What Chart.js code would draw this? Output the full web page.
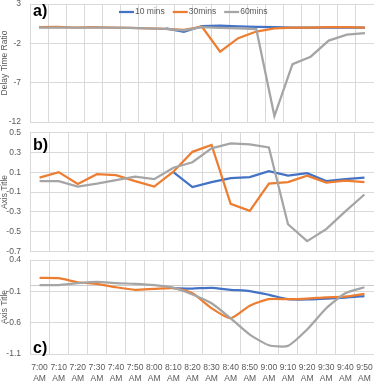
<!DOCTYPE html>
<html lang="en">
<head>
<meta charset="UTF-8">
<title>Delay time ratio - 10 / 30 / 60 mins</title>
<script src="https://cdn.jsdelivr.net/npm/chart.js"></script>
<style>
  html, body { margin: 0; padding: 0; background: #fff; }
  #wrap { position: relative; width: 374px; height: 382px; overflow: hidden; }
  canvas { position: absolute; left: 0; }
</style>
</head>
<body>
<div id="wrap">
  <canvas id="chartA" width="374" height="130" style="top:-2px"></canvas>
  <canvas id="chartB" width="374" height="132" style="top:126px"></canvas>
  <canvas id="chartC" width="374" height="129" style="top:253px"></canvas>
</div>

<script>
// categories (panel a has one extra slot at the end)
const times = ['7:00 AM', '7:10 AM', '7:20 AM', '7:30 AM', '7:40 AM', '7:50 AM',
               '8:00 AM', '8:10 AM', '8:20 AM', '8:30 AM', '8:40 AM', '8:50 AM',
               '9:00 AM', '9:10 AM', '9:20 AM', '9:30 AM', '9:40 AM', '9:50 AM'];
const timesA = times.concat(['10:00 AM']);

const seriesNames = ['10 mins', '30mins', '60mins'];

// a) Delay Time Ratio
const a10 = [null, null, null, null, null, null, null, -0.1, -0.55, 0.2, 0.25, 0.15, 0.1, 0.05, 0, 0, 0, 0, 0];
const a30 = [0.05, 0.1, 0, 0.05, 0, -0.05, -0.1, -0.15, -0.3, 0.1, -3.05, -1.35, -0.5, -0.1, 0, 0, 0.05, 0.05, 0];
const a60 = [0, 0, 0, 0, 0, -0.05, -0.1, -0.15, -0.35, 0.05, -0.05, -0.1, -0.2, -11.25, -4.65, -3.7, -1.65, -0.9, -0.7];
const ticksA = [3, -2, -7, -12];

// b)
const b10 = [null, null, null, null, null, null, null, 0.1, -0.05, 0.0, 0.04, 0.05, 0.11, 0.065, 0.09, 0.01, 0.03, 0.045];
const b30 = [0.045, 0.1, -0.02, 0.08, 0.07, 0.01, -0.045, 0.105, 0.305, 0.375, -0.22, -0.29, -0.015, 0.0, 0.065, -0.005, 0.015, 0.0];
const b60 = [0.01, 0.01, -0.045, -0.015, 0.02, 0.055, 0.03, 0.145, 0.2, 0.34, 0.39, 0.38, 0.35, -0.425, -0.595, -0.475, -0.295, -0.125];
const ticksB = [0.5, 0.3, 0.1, -0.1, -0.3, -0.5, -0.7];

// c)
const c10 = [null, null, null, null, null, null, null, -0.05, -0.055, -0.045, -0.075, -0.095, -0.155, -0.225, -0.23, -0.215, -0.2, -0.175];
const c30 = [0.115, 0.11, 0.045, 0.02, -0.035, -0.075, -0.06, -0.05, -0.13, -0.37, -0.53, -0.33, -0.225, -0.225, -0.215, -0.195, -0.185, -0.14];
const c60 = [0.0, 0.0, 0.03, 0.05, 0.03, 0.02, 0.0, -0.04, -0.15, -0.29, -0.53, -0.79, -0.96, -0.97, -0.71, -0.37, -0.13, -0.035];
const ticksC = [0.4, -0.1, -0.6, -1.1];

const colors = ['#4472C4', '#ED7D31', '#A5A5A5'];
const gridColor = '#d9d9d9';
const textColor = '#595959';
const fontFamily = '"Liberation Sans", Arial, sans-serif';

Chart.defaults.font.family = fontFamily;
Chart.defaults.font.size = 8.5;
Chart.defaults.color = textColor;

// big "a)", "b)", "c)" inside the plot
const panelLabel = {
  id: 'panelLabel',
  afterDatasetsDraw(chart, args, opts) {
    if (!opts.text) return;
    const { ctx, chartArea } = chart;
    ctx.save();
    ctx.font = 'bold 16px ' + fontFamily;
    ctx.fillStyle = '#000';
    ctx.textBaseline = 'alphabetic';
    const y = opts.fromBottom ? chartArea.bottom - opts.dy : chartArea.top + opts.dy;
    ctx.fillText(opts.text, chartArea.left + 3, y);
    ctx.restore();
  }
};

// horizontal axis line at 0 (only panel c shows it)
const zeroLine = {
  id: 'zeroLine',
  beforeDatasetsDraw(chart, args, opts) {
    if (!opts.show) return;
    const { ctx, chartArea } = chart;
    const y = chart.scales.y.getPixelForValue(0);
    ctx.save();
    ctx.strokeStyle = '#cccccc';
    ctx.lineWidth = 1;
    ctx.beginPath();
    ctx.moveTo(chartArea.left, Math.round(y) + 0.5);
    ctx.lineTo(chartArea.right, Math.round(y) + 0.5);
    ctx.stroke();
    ctx.restore();
  }
};

// Excel-style legend in one row inside the plot area
const rowLegend = {
  id: 'rowLegend',
  afterDatasetsDraw(chart, args, opts) {
    if (!opts.show) return;
    const { ctx, chartArea } = chart;
    ctx.save();
    ctx.font = '8.5px ' + fontFamily;
    ctx.textBaseline = 'middle';
    let x = chartArea.left + opts.left;
    const y = chartArea.top + opts.top;
    chart.data.datasets.forEach(ds => {
      ctx.strokeStyle = ds.borderColor;
      ctx.lineWidth = ds.borderWidth;
      ctx.beginPath();
      ctx.moveTo(x, y);
      ctx.lineTo(x + 15, y);
      ctx.stroke();
      ctx.fillStyle = textColor;
      ctx.fillText(ds.label, x + 16, y);
      x += 16 + ctx.measureText(ds.label).width + 8;
    });
    ctx.restore();
  }
};

function makeChart(id, labels, values, yTicks, cfg) {
  const datasets = values.map((v, i) => ({
    label: seriesNames[i],
    data: v,
    borderColor: colors[i],
    backgroundColor: colors[i],
    borderWidth: 2.25,
    pointRadius: 0,
    tension: cfg.tension || 0,
    order: 2 - i   // 60mins drawn on top, like Excel
  }));

  return new Chart(document.getElementById(id), {
    type: 'line',
    data: { labels: labels, datasets: datasets },
    options: {
      responsive: false,
      animation: false,
      layout: { autoPadding: false, padding: { top: cfg.padTop, bottom: cfg.padBottom, left: 0, right: 0 } },
      plugins: {
        legend: { display: false },
        tooltip: { enabled: false },
        panelLabel: cfg.panel,
        zeroLine: { show: !!cfg.zeroLine },
        rowLegend: { show: !!cfg.legend, left: 89, top: 8 }
      },
      scales: {
        x: {
          offset: true,
          grid: { color: gridColor, offset: true, drawTicks: false },
          border: { color: gridColor },
          ticks: {
            display: !!cfg.xLabels,
            maxRotation: 0,
            minRotation: 0,
            autoSkip: false,
            padding: 8,
            font: { size: 8.5, lineHeight: 1.3 },
            callback: function (v) { return this.getLabelForValue(v).split(' '); }
          },
          afterFit: s => { s.height = cfg.xHeight; s.paddingLeft = 0; s.paddingRight = 0; }
        },
        y: {
          min: yTicks[yTicks.length - 1],
          max: yTicks[0],
          afterBuildTicks: s => { s.ticks = yTicks.map(v => ({ value: v })); },
          grid: { color: gridColor, drawTicks: false },
          border: { display: false },
          ticks: { padding: 9 },
          title: { display: true, text: cfg.yTitle, padding: 0, color: textColor, font: { size: 8.5 } },
          afterFit: s => { s.width = 30; s.paddingTop = 0; s.paddingBottom = 0; }
        }
      }
    },
    plugins: [panelLabel, zeroLine, rowLegend]
  });
}

makeChart('chartA', timesA, [a10, a30, a60], ticksA, {
  yTitle: 'Delay Time Ratio', legend: true, padTop: 6, padBottom: 6, xHeight: 0,
  panel: { text: 'a)', dy: 12 }
});

makeChart('chartB', times, [b10, b30, b60], ticksB, {
  yTitle: 'Axis Title', padTop: 6.5, padBottom: 6.5, xHeight: 0,
  panel: { text: 'b)', dy: 17 }
});

makeChart('chartC', times, [c10, c30, c60], ticksC, {
  yTitle: 'Axis Title', padTop: 7, padBottom: 0, xHeight: 28, xLabels: true,
  zeroLine: true, tension: 0.2,
  panel: { text: 'c)', dy: 1.5, fromBottom: true }
});
</script>
</body>
</html>
